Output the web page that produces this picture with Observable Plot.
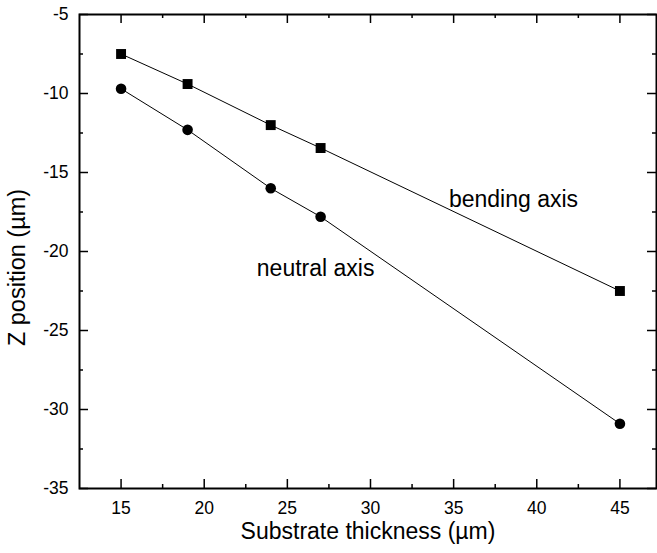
<!DOCTYPE html>
<html><head><meta charset="utf-8">
<script src="https://cdn.jsdelivr.net/npm/d3@7"></script>
<script src="https://cdn.jsdelivr.net/npm/@observablehq/plot@0.6"></script>
<style>body{margin:0;background:#fff;}</style>
</head><body><div id="chart"></div>
<script>
const thickness = [15, 19, 24, 27, 45];
const bendingAxis = [-7.5, -9.4, -12.0, -13.45, -22.5];
const neutralAxis = [-9.7, -12.3, -16.0, -17.8, -30.9];
const xMajorTicks = [15, 20, 25, 30, 35, 40, 45];
const xMinorTicks = [17.5, 22.5, 27.5, 32.5, 37.5, 42.5];
const yMajorTicks = [-35, -30, -25, -20, -15, -10, -5];
const yMinorTicks = [-32.5, -27.5, -22.5, -17.5, -12.5, -7.5];
const xTitle = "Substrate thickness (µm)";
const yTitle = "Z position (µm)";
const annotations = [
  {text: "bending axis", x: 38.6, y: -16.7},
  {text: "neutral axis", x: 26.7, y: -21.1}
];

const bending = thickness.map((t, i) => ({x: t, y: bendingAxis[i]}));
const neutral = thickness.map((t, i) => ({x: t, y: neutralAxis[i]}));

const W = 657, H = 553;
const mL = 79, mR = 1, mT = 14, mB = 65;
const innerW = W - mL - mR, innerH = H - mT - mB;
const major = 9, minor = 4;

const chart = Plot.plot({
  width: W, height: H,
  marginLeft: mL, marginRight: mR, marginTop: mT, marginBottom: mB,
  style: {fontFamily: "'Liberation Sans', Arial, Helvetica, sans-serif", fontSize: "17px", background: "#fff", color: "#000"},
  x: {domain: [12.5, 47.2]},
  y: {domain: [-35, -5]},
  marks: [
    Plot.ruleX(xMajorTicks, {x: d => d, insetTop: innerH - major, stroke: "#000", strokeWidth: 1.5}),
    Plot.ruleX(xMinorTicks, {x: d => d, insetTop: innerH - minor, stroke: "#000", strokeWidth: 1.5}),
    Plot.ruleX(xMajorTicks, {x: d => d, insetBottom: innerH - major, stroke: "#000", strokeWidth: 1.5}),
    Plot.ruleX(xMinorTicks, {x: d => d, insetBottom: innerH - minor, stroke: "#000", strokeWidth: 1.5}),
    Plot.ruleY(yMajorTicks, {y: d => d, insetRight: innerW - major, stroke: "#000", strokeWidth: 1.5}),
    Plot.ruleY(yMinorTicks, {y: d => d, insetRight: innerW - minor, stroke: "#000", strokeWidth: 1.5}),
    Plot.ruleY(yMajorTicks, {y: d => d, insetLeft: innerW - major, stroke: "#000", strokeWidth: 1.5}),
    Plot.ruleY(yMinorTicks, {y: d => d, insetLeft: innerW - minor, stroke: "#000", strokeWidth: 1.5}),
    Plot.axisX(xMajorTicks, {tickSize: 0, tickPadding: 13, tickFormat: d => String(d), fontSize: 17.5, label: null}),
    Plot.axisY(yMajorTicks, {tickSize: 0, tickPadding: 11, tickFormat: d => String(d), fontSize: 17.5, label: null}),
    Plot.frame({stroke: "#000", strokeWidth: 2}),
    Plot.line(bending, {x: "x", y: "y", stroke: "#000", strokeWidth: 1}),
    Plot.line(neutral, {x: "x", y: "y", stroke: "#000", strokeWidth: 1}),
    Plot.dot(bending, {x: "x", y: "y", symbol: "square", r: 5.6, fill: "#000", stroke: null}),
    Plot.dot(neutral, {x: "x", y: "y", symbol: "circle", r: 5.3, fill: "#000", stroke: null}),
    Plot.text(annotations, {x: "x", y: "y", text: "text", fontSize: 23, textAnchor: "middle", fill: "#000"}),
    Plot.text([xTitle], {frameAnchor: "bottom", textAnchor: "middle", dy: 50, fontSize: 23, fill: "#000"}),
    Plot.text([yTitle], {frameAnchor: "left", textAnchor: "middle", dx: -62, dy: 16, rotate: -90, fontSize: 23.5, fill: "#000"})
  ]
});
document.getElementById("chart").appendChild(chart);
</script>
</body></html>
